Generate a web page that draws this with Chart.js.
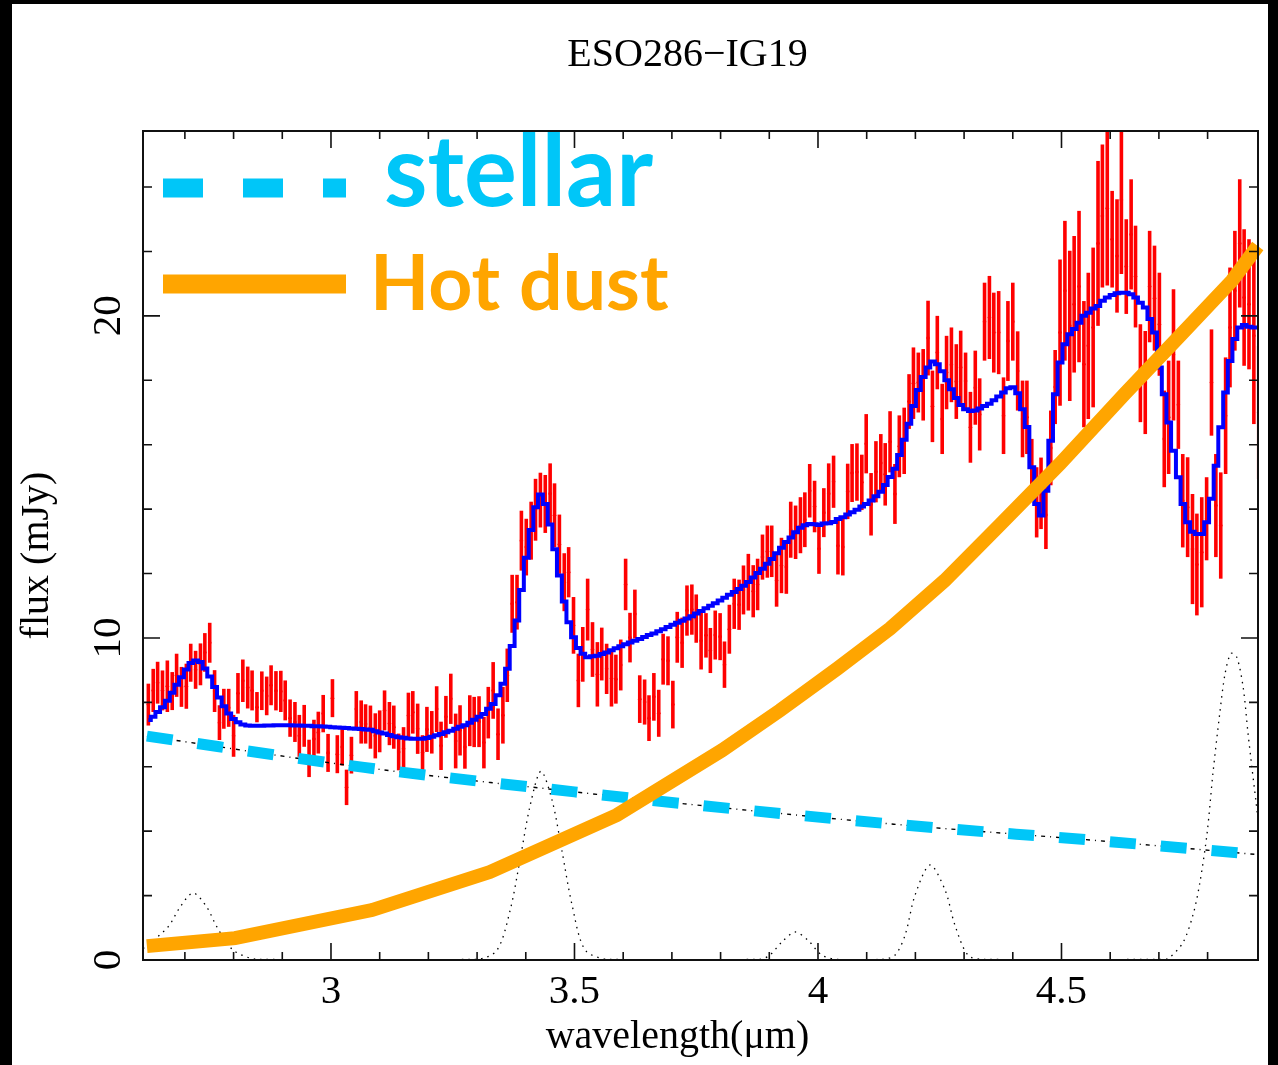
<!DOCTYPE html>
<html>
<head>
<meta charset="utf-8">
<script src="https://cdn.jsdelivr.net/npm/chart.js@4.4.1/dist/chart.umd.min.js"></script>
<style>
  html, body { margin: 0; padding: 0; background: #000; }
  #wrap { position: absolute; left: 12px; top: 4px; width: 1256px; height: 1061px; background: #fff; }
</style>
</head>
<body>
<div id="wrap"><canvas id="chartCanvas"></canvas></div>
<script>
// spectrum bins (micron)
const wavelength = [
  2.625, 2.635, 2.644, 2.654, 2.664, 2.674, 2.683, 2.693, 2.703, 2.712,
  2.722, 2.732, 2.741, 2.751, 2.761, 2.771, 2.780, 2.790, 2.800, 2.809,
  2.819, 2.829, 2.838, 2.848, 2.858, 2.868, 2.877, 2.887, 2.897, 2.906,
  2.916, 2.926, 2.935, 2.945, 2.955, 2.965, 2.974, 2.984, 2.994, 3.003,
  3.013, 3.023, 3.032, 3.042, 3.052, 3.062, 3.071, 3.081, 3.091, 3.100,
  3.110, 3.120, 3.129, 3.139, 3.149, 3.159, 3.168, 3.178, 3.188, 3.197,
  3.207, 3.217, 3.226, 3.236, 3.246, 3.256, 3.265, 3.275, 3.285, 3.294,
  3.304, 3.314, 3.323, 3.333, 3.343, 3.353, 3.362, 3.372, 3.382, 3.391,
  3.401, 3.411, 3.420, 3.430, 3.440, 3.450, 3.459, 3.469, 3.479, 3.488,
  3.498, 3.508, 3.517, 3.527, 3.537, 3.547, 3.556, 3.566, 3.576, 3.585,
  3.595, 3.605, 3.614, 3.624, 3.634, 3.644, 3.653, 3.663, 3.673, 3.682,
  3.692, 3.702, 3.711, 3.721, 3.731, 3.741, 3.750, 3.760, 3.770, 3.779,
  3.789, 3.799, 3.808, 3.818, 3.828, 3.838, 3.847, 3.857, 3.867, 3.876,
  3.886, 3.896, 3.905, 3.915, 3.925, 3.935, 3.944, 3.954, 3.964, 3.973,
  3.983, 3.993, 4.002, 4.012, 4.022, 4.032, 4.041, 4.051, 4.061, 4.070,
  4.080, 4.090, 4.099, 4.109, 4.119, 4.129, 4.138, 4.148, 4.158, 4.167,
  4.177, 4.187, 4.196, 4.206, 4.216, 4.226, 4.235, 4.245, 4.255, 4.264,
  4.274, 4.284, 4.293, 4.303, 4.313, 4.323, 4.332, 4.342, 4.352, 4.361,
  4.371, 4.381, 4.390, 4.400, 4.410, 4.420, 4.429, 4.439, 4.449, 4.458,
  4.468, 4.478, 4.487, 4.497, 4.507, 4.517, 4.526, 4.536, 4.546, 4.555,
  4.565, 4.575, 4.584, 4.594, 4.604, 4.614, 4.623, 4.633, 4.643, 4.652,
  4.662, 4.672, 4.681, 4.691, 4.701, 4.711, 4.720, 4.730, 4.740, 4.749,
  4.759, 4.769, 4.778, 4.788, 4.798, 4.808, 4.817, 4.827, 4.837, 4.846,
  4.856, 4.866, 4.875, 4.885, 4.895, 4.905
];

// observed flux (mJy)
const flux = [
  7.93, 8.37, 8.61, 8.37, 8.50, 8.35, 8.84, 8.48, 8.50, 9.23,
  9.01, 9.18, 9.55, 9.85, 8.35, 7.37, 7.80, 7.83, 6.96, 8.28,
  8.67, 8.46, 8.37, 7.85, 8.36, 8.20, 8.53, 8.36, 8.34, 8.06,
  7.51, 7.39, 6.96, 7.27, 6.26, 6.86, 7.06, 7.65, 6.43, 8.13,
  6.39, 6.61, 5.36, 6.36, 7.79, 7.39, 7.33,
  7.23, 6.96, 7.10, 7.75, 7.34, 7.23, 6.46, 6.56, 7.59, 7.69,
  7.18, 6.44, 7.16, 7.07, 7.79, 6.65, 7.55, 8.11, 6.80, 7.13,
  6.61, 7.43, 7.39, 7.40, 6.75, 7.68, 8.37, 7.01, 7.60, 8.84,
  11.06, 11.11, 13.02, 12.82, 13.33, 13.98, 14.28, 14.16, 14.48, 13.81,
  12.91, 11.73, 12.04, 10.39, 8.68, 9.49, 10.88,
  9.64, 8.87, 9.50, 9.04, 8.74, 8.72, 9.16, 11.66, 10.01, 10.74,
  8.10, 8.01, 7.51, 8.17, 7.66, 9.34, 9.29, 7.93, 10.02, 9.85,
  10.85, 10.88, 10.60, 9.91, 10.08, 9.61, 10.09, 10.04, 9.17, 10.27,
  11.06, 11.03, 11.49, 11.73, 11.45, 11.66, 12.51, 12.68, 12.69, 11.78,
  12.25, 12.20, 13.36, 13.28, 13.50, 13.67, 14.57, 14.08, 12.77,
  13.89, 14.48, 14.85, 12.86, 12.82, 14.55, 15.12, 15.15, 14.83, 16.03,
  14.15, 15.16, 15.43, 15.08, 16.09, 14.47, 15.95, 16.12, 17.34, 17.91,
  17.93, 17.86, 19.31, 17.19, 18.86, 16.80, 18.24, 18.48, 17.96, 18.40,
  17.98, 16.54, 17.77, 16.94, 19.82, 19.95, 19.48, 19.48, 16.90, 19.22,
  19.82, 18.29, 16.80, 16.85,
  15.28, 14.21, 14.49, 13.82, 15.90, 17.79, 19.48, 20.78, 19.69, 20.36,
  20.91, 18.50, 19.07, 19.64, 22.25, 23.10, 23.34, 22.38, 21.86, 23.60,
  21.53, 22.53, 21.22, 18.22, 17.93, 20.91, 20.55, 19.74, 16.18, 16.85,
  18.79, 17.24, 14.26, 14.06, 12.76, 12.28, 12.66, 13.70, 17.93, 14.11,
  13.49, 16.90, 19.64, 20.78, 22.25, 20.57, 20.36, 19.38, 17.00
];

// 1-sigma errors (mJy)
const fluxErr = [
  0.65, 0.67, 0.65, 0.62, 0.80, 0.59, 0.67, 0.62, 0.70, 0.59,
  0.59, 0.65, 0.60, 0.62, 0.65, 0.54, 0.62, 0.59, 0.65, 0.63,
  0.66, 0.65, 0.62, 0.47, 0.60, 0.60, 0.62, 0.61, 0.64, 0.62,
  0.58, 0.62, 0.65, 0.65, 0.58, 0.60, 0.65, 0.58, 0.59, 0.59,
  0.59, 0.57, 0.55, 0.57, 0.56, 0.67, 0.61,
  0.67, 0.70, 0.65, 0.62, 0.67, 0.67, 0.57, 0.67, 0.71, 0.66,
  0.78, 0.54, 0.70, 0.66, 0.71, 0.75, 0.65, 0.78, 0.85, 0.78,
  0.67, 0.79, 0.78, 0.79, 0.80, 0.80, 0.88, 0.80, 0.88, 0.83,
  0.90, 0.85, 0.93, 0.88, 0.90, 0.96, 0.85, 0.90, 0.94, 0.99,
  0.92, 0.90, 0.78, 0.88, 0.83, 0.85, 0.96,
  0.85, 1.00, 0.82, 0.78, 0.87, 0.76, 0.79, 0.80, 0.77, 0.76,
  0.74, 0.70, 0.71, 0.74, 0.73, 0.79, 0.76, 0.74, 0.79, 0.78,
  0.78, 0.78, 0.75, 0.89, 0.69, 0.70, 0.76, 0.73, 0.72, 0.76,
  0.78, 0.78, 0.76, 0.88, 0.81, 0.80, 0.70, 0.81, 0.80, 0.81,
  0.86, 0.83, 0.87, 0.83, 0.87, 0.85, 0.83, 0.80, 0.78,
  0.76, 0.94, 0.81, 0.89, 0.88, 0.86, 0.90, 0.89, 0.86, 0.92,
  0.97, 0.95, 0.90, 0.97, 0.95, 0.93, 0.96, 1.03, 0.85, 1.11,
  0.93, 1.11, 1.16, 1.11, 1.14, 1.09, 1.14, 1.16, 1.16, 1.14,
  0.88, 1.10, 1.15, 1.12, 1.21, 1.29, 1.24, 1.29, 1.19, 1.24,
  1.21, 1.23, 1.19, 1.14,
  0.90, 1.09, 1.11, 1.06, 1.16, 1.15, 2.27, 2.17, 2.33, 2.12,
  2.35, 1.96, 2.27, 2.48, 2.56, 2.22, 2.40, 1.50, 1.76, 2.30,
  1.47, 1.71, 1.58, 1.52, 1.60, 1.73, 1.63, 1.60, 1.50, 1.76,
  2.04, 1.37, 1.45, 1.55, 1.71, 1.58, 1.71, 1.29, 1.65, 1.60,
  1.65, 1.81, 1.86, 1.86, 1.99, 2.12, 2.02, 2.74, 2.07
];

// best-fit total model, same bins
const model = [
  7.45, 7.55, 7.70, 7.85, 8.05, 8.30, 8.55, 8.78, 9.02, 9.22,
  9.30, 9.25, 9.05, 8.80, 8.48, 8.15, 7.88, 7.65, 7.48, 7.38,
  7.31, 7.28, 7.27, 7.27, 7.27, 7.28, 7.28, 7.29, 7.29, 7.29,
  7.29, 7.28, 7.28, 7.27, 7.27, 7.26, 7.26, 7.25, 7.24, 7.23,
  7.22, 7.21, 7.20, 7.19, 7.18, 7.17, 7.16,
  7.15, 7.10, 7.06, 7.03, 6.99, 6.95, 6.92, 6.90, 6.88, 6.87,
  6.87, 6.87, 6.89, 6.93, 6.98, 7.02, 7.07, 7.12, 7.18, 7.24,
  7.29, 7.37, 7.46, 7.55, 7.64, 7.80, 7.95, 8.22, 8.58, 9.04,
  9.75, 10.54, 11.49, 12.49, 13.35, 14.06, 14.45, 14.16, 13.52, 12.75,
  11.94, 11.13, 10.49, 10.02, 9.69, 9.51, 9.40,
  9.43, 9.45, 9.50, 9.55, 9.62, 9.68, 9.74, 9.80, 9.86, 9.91,
  9.97, 10.03, 10.09, 10.14, 10.21, 10.27, 10.34, 10.41, 10.47, 10.53,
  10.60, 10.67, 10.76, 10.84, 10.92, 11.00, 11.08, 11.16, 11.25, 11.34,
  11.43, 11.52, 11.62, 11.74, 11.88, 12.02, 12.15, 12.30, 12.45, 12.63,
  12.80, 12.98, 13.12, 13.28, 13.42, 13.50, 13.54, 13.53, 13.51,
  13.55, 13.56, 13.60, 13.69, 13.75, 13.83, 13.90, 13.98, 14.08, 14.16,
  14.27, 14.40, 14.54, 14.75, 15.00, 15.25, 15.68, 16.15, 16.65, 17.20,
  17.70, 18.10, 18.40, 18.58, 18.50, 18.28, 18.00, 17.72, 17.45, 17.23,
  17.10, 17.05, 17.06, 17.12, 17.20, 17.27, 17.38, 17.50, 17.62, 17.75,
  17.78, 17.60, 17.10, 16.55,
  15.30, 14.16, 13.80, 14.57, 16.12, 17.57, 18.55, 19.12, 19.43, 19.59,
  19.79, 20.00, 20.10, 20.23, 20.31, 20.47, 20.57, 20.65, 20.70, 20.72,
  20.72, 20.67, 20.57, 20.41, 20.26, 19.90, 19.48, 18.40, 17.57, 16.69,
  15.81, 14.99, 14.16, 13.59, 13.30, 13.23, 13.23, 13.59, 14.32, 15.35,
  16.54, 17.62, 18.60, 19.28, 19.64, 19.72, 19.66, 19.64, 19.64
];

// stellar continuum
const stellarWave = [2.622, 3.068, 3.500, 3.758, 4.168, 4.579, 4.897];
const stellarFlux = [6.95, 5.98, 5.22, 4.80, 4.20, 3.70, 3.28];

// hot dust component
const hotDustWave = [2.622, 2.803, 3.084, 3.326, 3.587, 3.803, 3.922, 4.040, 4.148, 4.260, 4.374, 4.497, 4.630, 4.743, 4.850, 4.903];
const hotDustFlux = [0.43, 0.68, 1.55, 2.73, 4.50, 6.51, 7.75, 9.05, 10.29, 11.78, 13.52, 15.41, 17.58, 19.38, 21.09, 22.17];

// emission line components (dotted)
const lineWave = [
  2.614, 2.618, 2.665, 2.690, 2.717, 2.745, 2.766, 2.799, 2.850,
  3.300, 3.341, 3.368, 3.388, 3.409, 3.431, 3.454, 3.474, 3.495, 3.522, 3.570,
  3.880, 3.901, 3.926, 3.953, 3.979, 4.008, 4.040,
  4.130, 4.158, 4.179, 4.199, 4.230, 4.261, 4.281, 4.308, 4.340,
  4.700, 4.719, 4.749, 4.770, 4.784, 4.799, 4.811, 4.825, 4.836, 4.848,
  4.860, 4.873, 4.883, 4.891, 4.899, 4.903
];
const lineFlux = [
  0.36, 0.40, 1.02, 1.64, 2.08, 1.64, 1.02, 0.31, 0.02,
  0.02, 0.31, 1.55, 3.10, 4.80, 5.86, 4.96, 3.41, 1.71, 0.31, 0.02,
  0.02, 0.15, 0.56, 0.87, 0.62, 0.15, 0.02,
  0.02, 0.15, 0.78, 2.00, 2.95, 2.17, 1.09, 0.15, 0.02,
  0.02, 0.05, 0.53, 1.40, 2.39, 3.94, 5.80, 7.66, 8.90, 9.52,
  9.40, 8.47, 7.04, 5.98, 4.96, 4.43
];

const xMajorTicks = [3, 3.5, 4, 4.5];
const xTickLabels = ['3', '3.5', '4', '4.5'];
const xMinorTicks = [2.7, 2.8, 2.9, 3.1, 3.2, 3.3, 3.4, 3.6, 3.7, 3.8, 3.9, 4.1, 4.2, 4.3, 4.4, 4.6, 4.7, 4.8];
const yMajorTicks = [0, 10, 20];
const yTickLabels = ['0', '10', '20'];
const yMinorTicks = [2, 4, 6, 8, 12, 14, 16, 18, 22, 24];

const RED = '#ff0000';
const BLUE = '#0000ff';
const CYAN = '#00c6f8';
const ORANGE = '#ffa500';

const toXY = (xs, ys) => xs.map((x, i) => ({ x: x, y: ys[i] }));

// error bars go under the lines
const errorBars = {
    id: 'errorBars',
    beforeDatasetsDraw(chart) {
        const { ctx, chartArea: a, scales: { x, y } } = chart;
        ctx.save();
        ctx.beginPath();
        ctx.rect(a.left, a.top, a.right - a.left, a.bottom - a.top);
        ctx.clip();
        ctx.strokeStyle = RED;
        ctx.lineWidth = 3.6;
        wavelength.forEach((w, i) => {
            const px = x.getPixelForValue(w);
            ctx.beginPath();
            ctx.moveTo(px, y.getPixelForValue(flux[i] - fluxErr[i]));
            ctx.lineTo(px, y.getPixelForValue(flux[i] + fluxErr[i]));
            ctx.stroke();
        });
        ctx.restore();
    }
};

// R-style frame, inward ticks, labels and the overlaid legend
const decor = {
    id: 'decor',
    afterDraw(chart) {
        const { ctx, chartArea: a, scales: { x, y } } = chart;
        ctx.save();
        ctx.strokeStyle = '#111';
        ctx.lineWidth = 2;
        ctx.strokeRect(a.left, a.top, a.right - a.left, a.bottom - a.top);

        const tickX = (v, len) => {
            const px = x.getPixelForValue(v);
            ctx.beginPath();
            ctx.moveTo(px, a.bottom); ctx.lineTo(px, a.bottom - len);
            ctx.moveTo(px, a.top); ctx.lineTo(px, a.top + len);
            ctx.stroke();
        };
        const tickY = (v, len) => {
            const py = y.getPixelForValue(v);
            ctx.beginPath();
            ctx.moveTo(a.left, py); ctx.lineTo(a.left + len, py);
            ctx.moveTo(a.right, py); ctx.lineTo(a.right - len, py);
            ctx.stroke();
        };
        ctx.lineWidth = 1.6;
        xMinorTicks.forEach(v => tickX(v, 8));
        xMajorTicks.forEach(v => tickX(v, 17));
        yMinorTicks.forEach(v => tickY(v, 9));
        yMajorTicks.forEach(v => tickY(v, 17));

        ctx.fillStyle = '#000';
        ctx.font = '41px "Liberation Serif", "Times New Roman", serif';
        ctx.textAlign = 'center';
        ctx.textBaseline = 'alphabetic';
        xMajorTicks.forEach((v, i) => {
            ctx.fillText(xTickLabels[i], x.getPixelForValue(v), a.bottom + 43);
        });
        yMajorTicks.forEach((v, i) => {
            ctx.save();
            ctx.translate(a.left - 23, y.getPixelForValue(v));
            ctx.rotate(-Math.PI / 2);
            ctx.fillText(yTickLabels[i], 0, 0);
            ctx.restore();
        });

        // title and axis titles
        ctx.font = '40px "Liberation Serif", "Times New Roman", serif';
        const cx = (a.left + a.right) / 2;
        ctx.fillText('ESO286\u2212IG19', cx - 13, a.top - 65);
        ctx.fillText('wavelength(\u03bcm)', cx - 23, a.bottom + 88);
        ctx.save();
        ctx.translate(a.left - 95, (a.top + a.bottom) / 2 + 10);
        ctx.rotate(-Math.PI / 2);
        ctx.fillText('flux (mJy)', 0, 0);
        ctx.restore();

        // legend
        const lx0 = a.left + 20, lx1 = a.left + 203;
        ctx.lineCap = 'butt';
        ctx.lineWidth = 19;
        ctx.strokeStyle = CYAN;
        ctx.setLineDash([40, 40]);
        ctx.beginPath();
        ctx.moveTo(lx0, a.top + 57); ctx.lineTo(lx1, a.top + 57);
        ctx.stroke();
        ctx.setLineDash([]);
        ctx.strokeStyle = ORANGE;
        ctx.beginPath();
        ctx.moveTo(lx0, a.top + 153); ctx.lineTo(lx1, a.top + 153);
        ctx.stroke();

        ctx.textAlign = 'left';
        ctx.font = 'bold 99px Lato, "Open Sans", sans-serif';
        ctx.fillStyle = CYAN;
        ctx.fillText('stellar', a.left + 241, a.top + 75);
        ctx.font = 'bold 77px Lato, "Open Sans", sans-serif';
        ctx.fillStyle = ORANGE;
        ctx.fillText('Hot dust', a.left + 227, a.top + 179);
        ctx.restore();
    }
};

document.addEventListener('DOMContentLoaded', () => {
    const ctx = document.getElementById('chartCanvas').getContext('2d');

    new Chart(ctx, {
        type: 'scatter',
        data: {
            datasets: [
                {
                    label: 'Hot dust',
                    data: toXY(hotDustWave, hotDustFlux),
                    showLine: true,
                    borderColor: ORANGE,
                    borderWidth: 14,
                    pointRadius: 0,
                    clip: false
                },
                {
                    label: 'stellar',
                    data: toXY(stellarWave, stellarFlux),
                    showLine: true,
                    borderColor: CYAN,
                    borderWidth: 11,
                    borderDash: [26, 25],
                    cubicInterpolationMode: 'monotone',
                    pointRadius: 0
                },
                {
                    label: 'model',
                    data: toXY(wavelength, model),
                    showLine: true,
                    stepped: 'middle',
                    borderColor: BLUE,
                    borderWidth: 4,
                    pointRadius: 0
                },
                {
                    label: 'data',
                    data: toXY(wavelength, flux),
                    showLine: false,
                    backgroundColor: RED,
                    borderColor: RED,
                    pointRadius: 1.8,
                    pointBorderWidth: 0
                },
                {
                    label: 'stellar model',
                    data: toXY(stellarWave, stellarFlux),
                    showLine: true,
                    borderColor: '#000',
                    borderWidth: 1.4,
                    borderDash: [4, 5, 1, 5],
                    cubicInterpolationMode: 'monotone',
                    pointRadius: 0
                },
                {
                    label: 'lines',
                    data: toXY(lineWave, lineFlux),
                    showLine: true,
                    borderColor: '#000',
                    borderWidth: 1.3,
                    borderDash: [1.5, 5],
                    tension: 0.3,
                    pointRadius: 0
                }
            ]
        },
        options: {
            responsive: true,
            maintainAspectRatio: false,
            animation: false,
            devicePixelRatio: 1,
            layout: {
                padding: { left: 131, right: 10, top: 127, bottom: 105 }
            },
            plugins: {
                legend: { display: false },
                tooltip: { enabled: false },
                title: { display: false }
            },
            scales: {
                x: { type: 'linear', min: 2.614, max: 4.9035, display: false },
                y: { type: 'linear', min: 0, max: 25.74, display: false }
            }
        },
        plugins: [errorBars, decor]
    });
});
</script>
</body>
</html>
